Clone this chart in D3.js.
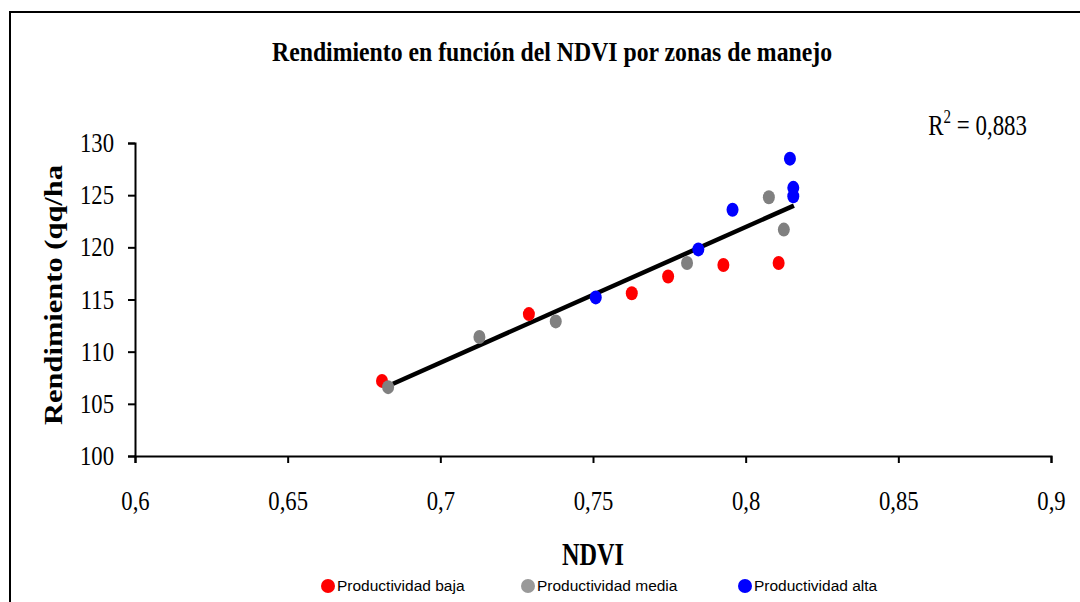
<!DOCTYPE html>
<html>
<head>
<meta charset="utf-8">
<script src="https://cdn.jsdelivr.net/npm/d3@7"></script>
<style>
  body { margin: 0; background: white; }
  svg { display: block; }
</style>
</head>
<body>
<div id="chart"></div>
<script>
// points, one array per zone
const bajaX  = [0.6809, 0.7290, 0.7627, 0.7746, 0.7927, 0.8108];
const bajaY  = [107.2, 113.6, 115.6, 117.2, 118.3, 118.5];
const mediaX = [0.6829, 0.7128, 0.7378, 0.7808, 0.8076, 0.8125];
const mediaY = [106.6, 111.4, 112.9, 118.5, 124.8, 121.7];
const altaX  = [0.7509, 0.7845, 0.7957, 0.8145, 0.8156, 0.8156];
const altaY  = [115.2, 119.8, 123.6, 128.5, 125.7, 124.9];

// linear trend line ends (from min to max NDVI)
const trendX = [0.6812, 0.8158];
const trendY = [106.5, 124.0];

const xTicks = [0.6, 0.65, 0.7, 0.75, 0.8, 0.85, 0.9];
const yTicks = [100, 105, 110, 115, 120, 125, 130];

const seriesNames = ['Productividad baja', 'Productividad media', 'Productividad alta'];
const seriesColors = ['#ff0000', '#808080', '#0000ff'];
const legendColors = ['#ff0000', '#999999', '#0000ff'];

let width = 1080, height = 602;
let serif = '"Liberation Serif", "Times New Roman", serif';
let sans = '"Liberation Sans", Arial, sans-serif';
let sx = 0.79;     // the original text is squeezed sideways
let sxTick = 0.84; // tick labels a little less

let svg = d3.select('#chart')
            .append('svg')
            .attr('width', width)
            .attr('height', height);

// outer frame (right and bottom run off the picture)
svg.append('rect')
    .attr('x', 10).attr('y', 12)
    .attr('width', 1200).attr('height', 800)
    .attr('fill', 'white')
    .attr('stroke', 'black')
    .attr('stroke-width', 2);

let xScale = d3.scaleLinear().domain([0.6, 0.9]).range([135, 1051]);
let yScale = d3.scaleLinear().domain([100, 130]).range([456, 143]);

let fmt = d => String(d).replace('.', ',');

// x axis
let xAxis = svg.append('g')
    .attr('transform', `translate(0, ${yScale(100)})`)
    .call(d3.axisBottom(xScale).tickValues(xTicks).tickFormat(fmt).tickSize(7).tickPadding(28));

// y axis
let yAxis = svg.append('g')
    .attr('transform', `translate(${xScale(0.6)}, 0)`)
    .call(d3.axisLeft(yScale).tickValues(yTicks).tickSize(7).tickPadding(14));

[xAxis, yAxis].forEach(ax => {
    ax.select('.domain').attr('stroke', 'black').attr('stroke-width', 2);
    ax.selectAll('.tick line').attr('stroke', 'black').attr('stroke-width', 2);
    ax.selectAll('.tick text')
        .style('font-family', serif)
        .style('font-size', '27px')
        .attr('fill', 'black');
});
xAxis.selectAll('.tick text').attr('transform', `scale(${sxTick},1)`);
yAxis.selectAll('.tick text')
    .attr('x', -21 / sxTick)
    .attr('transform', `scale(${sxTick},1)`);

// trend line
let trend = trendX.map((x, i) => [x, trendY[i]]);
svg.append('path')
    .datum(trend)
    .attr('d', d3.line().x(d => xScale(d[0])).y(d => yScale(d[1])))
    .attr('stroke', 'black')
    .attr('stroke-width', 4.5)
    .attr('fill', 'none');

// points, drawn per zone
let series = [[bajaX, bajaY], [mediaX, mediaY], [altaX, altaY]];
series.forEach(function(s, k) {
    let pts = s[0].map((x, i) => ({x: x, y: s[1][i]}));
    svg.append('g').selectAll('ellipse')
        .data(pts)
        .enter()
        .append('ellipse')
        .attr('cx', d => xScale(d.x))
        .attr('cy', d => yScale(d.y))
        .attr('rx', 6)
        .attr('ry', 7)
        .attr('fill', seriesColors[k]);
});

// title
svg.append('text')
    .attr('x', 552)
    .attr('y', 61)
    .attr('text-anchor', 'middle')
    .attr('textLength', 560)
    .attr('lengthAdjust', 'spacingAndGlyphs')
    .style('font-family', serif)
    .style('font-weight', 'bold')
    .style('font-size', '27px')
    .text('Rendimiento en función del NDVI por zonas de manejo');

// R squared
let r2 = svg.append('g')
    .attr('transform', `translate(1027, 135) scale(${sx},1)`)
    .append('text')
    .attr('text-anchor', 'end')
    .style('font-family', serif)
    .style('font-size', '29px');
r2.append('tspan').text('R');
r2.append('tspan').attr('dy', -12).style('font-size', '19px').text('2');
r2.append('tspan').attr('dy', 12).text(' = 0,883');

// axis titles
svg.append('text')
    .attr('x', 593)
    .attr('y', 565)
    .attr('text-anchor', 'middle')
    .attr('textLength', 62)
    .attr('lengthAdjust', 'spacingAndGlyphs')
    .style('font-family', serif)
    .style('font-weight', 'bold')
    .style('font-size', '32px')
    .text('NDVI');

svg.append('text')
    .attr('transform', 'translate(62, 295) rotate(-90)')
    .attr('text-anchor', 'middle')
    .attr('textLength', 260)
    .attr('lengthAdjust', 'spacingAndGlyphs')
    .style('font-family', serif)
    .style('font-weight', 'bold')
    .style('font-size', '26px')
    .text('Rendimiento (qq/ha');

// legend
let legendX = [328, 528, 745];
let legendItem = svg.selectAll('.legend-item')
    .data(seriesNames)
    .enter()
    .append('g')
    .attr('class', 'legend-item')
    .attr('transform', (d, i) => `translate(${legendX[i]}, 586)`);

legendItem.append('circle')
    .attr('r', 7)
    .attr('fill', (d, i) => legendColors[i]);

legendItem.append('text')
    .attr('x', 9)
    .attr('y', 5)
    .style('font-family', sans)
    .style('font-size', '15.5px')
    .text(d => d);
</script>
</body>
</html>
